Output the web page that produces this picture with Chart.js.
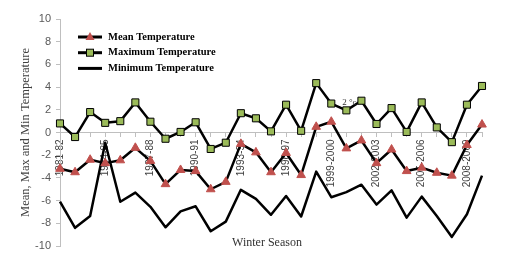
<!DOCTYPE html>
<html><head><meta charset="utf-8">
<script src="https://cdn.jsdelivr.net/npm/chart.js@4.4.1/dist/chart.umd.min.js"></script>
<style>html,body{margin:0;padding:0;background:#fff}#wrap{width:522px;height:272px}</style>
</head><body><div id="wrap"><canvas id="c" width="522" height="272"></canvas></div>
<script>
const seasons = ['1981-82','1982-83','1983-84','1984-85','1985-86','1986-87','1987-88','1988-89','1989-90','1990-91',
  '1991-92','1992-93','1993-94','1994-95','1995-96','1996-97','1997-98','1998-99','1999-2000','2000-2001',
  '2001-2002','2002-2003','2003-2004','2004-2005','2005-2006','2006-2007','2007-2008','2008-2009','2009-2010'];
const meanTemp = [-3.2,-3.5,-2.4,-2.7,-2.45,-1.35,-2.5,-4.55,-3.3,-3.4,-5.0,-4.35,-1.0,-1.75,-3.5,-1.8,-3.75,0.5,0.95,-1.4,-0.7,-2.7,-1.5,-3.4,-3.1,-3.55,-3.8,-1.1,0.7];
const maxTemp = [0.8,-0.4,1.8,0.85,1.0,2.65,0.95,-0.55,0.05,0.9,-1.45,-0.9,1.7,1.25,0.1,2.45,0.15,4.35,2.55,1.95,2.8,0.75,2.15,0.05,2.65,0.45,-0.85,2.45,4.1];
const minTemp = [-6.1,-8.4,-7.35,-0.9,-6.1,-5.3,-6.55,-8.35,-6.95,-6.5,-8.7,-7.85,-5.05,-5.85,-7.25,-5.6,-7.4,-3.45,-5.7,-5.25,-4.6,-6.35,-5.1,-7.5,-5.65,-7.35,-9.2,-7.2,-3.8];
const seriesNames = ['Mean Temperature','Maximum Temperature','Minimum Temperature'];
const yMin = -10, yMax = 10, yStep = 2;
const labelEvery = 3;
const xTitle = 'Winter Season';
const yTitle = 'Mean, Max and Min Temperature';
const noteText = '2 °c';
const noteIndex = 19.2, noteValue = 2.6;

const overlay = {
  id: 'overlay',
  afterDraw(chart) {
    const ctx = chart.ctx, ca = chart.chartArea;
    ctx.save();
    // legend
    const lx0 = ca.left + 18, lx1 = ca.left + 42, tx = ca.left + 48;
    chart.data.datasets.forEach((ds, i) => {
      const y = ca.top + 18 + i * 15.7;
      ctx.strokeStyle = '#000'; ctx.lineWidth = 3;
      ctx.beginPath(); ctx.moveTo(lx0, y); ctx.lineTo(lx1, y); ctx.stroke();
      const mx = (lx0 + lx1) / 2;
      if (ds.pointStyle === 'triangle') {
        ctx.fillStyle = ds.pointBackgroundColor;
        ctx.beginPath(); ctx.moveTo(mx, y - 5); ctx.lineTo(mx + 4.5, y + 3); ctx.lineTo(mx - 4.5, y + 3); ctx.closePath(); ctx.fill();
      } else if (ds.pointStyle === 'rect') {
        ctx.fillStyle = ds.pointBackgroundColor; ctx.strokeStyle = '#000'; ctx.lineWidth = 1;
        ctx.fillRect(mx - 3.5, y - 3.5, 7, 7); ctx.strokeRect(mx - 3.5, y - 3.5, 7, 7);
      }
      ctx.fillStyle = '#000';
      ctx.font = 'bold 10.5px "Liberation Serif"';
      ctx.textBaseline = 'middle'; ctx.textAlign = 'left';
      ctx.fillText(ds.label, tx, y);
    });
    // x title
    ctx.font = '12px "Liberation Serif"';
    ctx.fillStyle = '#333'; ctx.textAlign = 'center'; ctx.textBaseline = 'middle';
    ctx.fillText(xTitle, (ca.left + ca.right) / 2 - 4, ca.bottom - 3);
    // note
    ctx.font = '9px "Liberation Serif"'; ctx.fillStyle = '#333';
    ctx.fillText(noteText, chart.scales.x.getPixelForValue(noteIndex), chart.scales.y.getPixelForValue(noteValue));
    ctx.restore();
  }
};

new Chart(document.getElementById('c'), {
  type: 'line',
  data: {
    labels: seasons,
    datasets: [
      { label: seriesNames[0], data: meanTemp, borderColor: '#000', borderWidth: 2.5, pointStyle: 'triangle', pointRadius: 5,
        pointBackgroundColor: '#C0504D', pointBorderColor: '#C0504D', pointBorderWidth: 1, tension: 0, borderJoinStyle: 'round' },
      { label: seriesNames[1], data: maxTemp, borderColor: '#000', borderWidth: 2.5, pointStyle: 'rect', pointRadius: 5,
        pointBackgroundColor: '#9BBB59', pointBorderColor: '#000', pointBorderWidth: 1, tension: 0, borderJoinStyle: 'round' },
      { label: seriesNames[2], data: minTemp, borderColor: '#000', borderWidth: 2.5, pointRadius: 0, tension: 0, borderJoinStyle: 'round' }
    ]
  },
  options: {
    responsive: false, animation: false,
    layout: { padding: { left: 14, top: 19, right: 40, bottom: 26 } },
    plugins: { legend: { display: false }, tooltip: { enabled: false } },
    scales: {
      x: {
        type: 'category', position: { y: 0 }, offset: false,
        ticks: { autoSkip: false, maxRotation: 90, minRotation: 90, color: '#404040',
          font: { family: 'Liberation Sans', size: 10 }, padding: 3,
          callback: (v, i) => (i % labelEvery === 0 ? seasons[i] : '') },
        grid: { drawOnChartArea: false, drawTicks: true, tickLength: 4, color: '#BFBFBF' },
        border: { display: true, color: '#BFBFBF' }
      },
      y: {
        min: yMin, max: yMax,
        ticks: { stepSize: yStep, color: '#595959', font: { family: 'Liberation Sans', size: 11 }, padding: 5 },
        grid: { drawOnChartArea: false, drawTicks: true, tickLength: 4, color: '#BFBFBF' },
        border: { display: true, color: '#BFBFBF' },
        title: { display: true, text: yTitle, color: '#404040', font: { family: 'Liberation Serif', size: 12.5 }, padding: { top: 4, bottom: 0 } },
        afterFit(s) { s.width = 46; }
      }
    }
  },
  plugins: [overlay]
});
</script></body></html>
